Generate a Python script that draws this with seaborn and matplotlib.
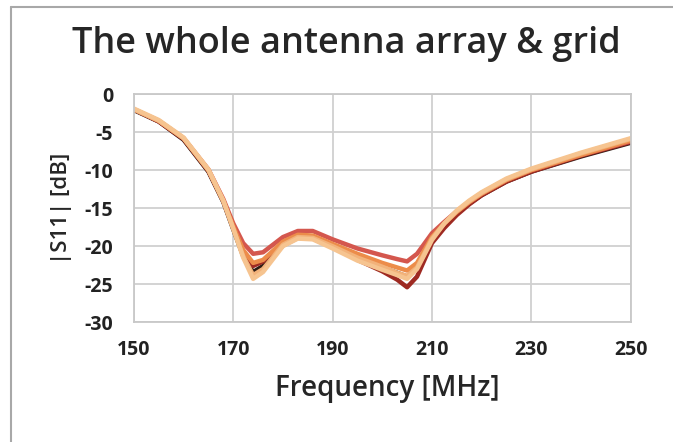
import pandas as pd
import seaborn as sns
import matplotlib.pyplot as plt
from matplotlib.lines import Line2D

# frequency points (MHz)
freq = [150, 155, 160, 165, 168, 170, 172, 174, 176, 178, 180, 183, 186, 190,
        195, 200, 203, 205, 207, 210, 212.5, 215, 217.5, 220, 225, 230, 240, 250]

# |S11| in dB, one list per measurement
s_dark = [-2.1, -3.6, -6.0, -10.2, -14.2, -17.8, -21.3, -23.4, -22.6, -21.3, -19.9, -18.9, -19.0, -20.1,
          -21.6, -22.8, -23.5, -24.0, -22.8, -19.0, -17.3, -15.7, -14.4, -13.3, -11.5, -10.2, -8.2, -6.4]
s_darkred = [-2.0, -3.6, -5.9, -10.1, -14.1, -17.6, -20.8, -22.6, -22.0, -20.8, -19.5, -18.6, -18.7, -20.0,
             -21.8, -23.3, -24.4, -25.4, -24.0, -19.6, -17.6, -15.9, -14.5, -13.3, -11.5, -10.2, -8.1, -6.3]
s_red = [-2.0, -3.5, -5.8, -9.9, -13.8, -17.0, -19.6, -21.0, -20.8, -19.8, -18.8, -18.0, -18.0, -19.1,
         -20.3, -21.2, -21.7, -22.0, -21.0, -18.3, -16.8, -15.4, -14.2, -13.1, -11.3, -10.0, -8.0, -6.2]
s_orange = [-2.0, -3.5, -5.8, -10.0, -14.0, -17.4, -20.5, -22.2, -21.8, -20.6, -19.4, -18.5, -18.6, -19.7,
            -21.0, -22.2, -22.8, -23.2, -22.2, -18.8, -17.0, -15.5, -14.2, -13.1, -11.3, -10.0, -8.0, -6.1]
s_tan = [-2.0, -3.5, -5.8, -10.0, -14.1, -17.7, -21.3, -23.8, -23.0, -21.4, -19.8, -18.8, -18.9, -20.0,
         -21.5, -22.7, -23.5, -23.9, -22.8, -19.0, -17.0, -15.4, -14.1, -13.0, -11.2, -9.9, -7.8, -5.9]
s_peach = [-1.9, -3.4, -5.7, -9.9, -14.0, -17.7, -21.5, -24.3, -23.4, -21.7, -20.0, -19.0, -19.1, -20.3,
           -21.9, -23.1, -23.8, -24.3, -23.0, -19.2, -17.0, -15.3, -14.0, -12.9, -11.1, -9.8, -7.7, -5.8]

series = {"dark": s_dark, "darkred": s_darkred, "red": s_red,
          "orange": s_orange, "tan": s_tan, "peach": s_peach}
colors = ["#2e1c14", "#9e2a22", "#d4574e", "#ec8c4a", "#f2b27a", "#f6c490"]

x_ticks = [150, 170, 190, 210, 230, 250]
y_ticks = [0, -5, -10, -15, -20, -25, -30]

# long-form table for seaborn
df = pd.concat([pd.DataFrame({"freq": freq, "s11": v, "run": k}) for k, v in series.items()],
               ignore_index=True)

sns.set_style("whitegrid")
plt.rcParams['font.family'] = ['Open Sans', 'DejaVu Sans']
plt.rcParams['axes.unicode_minus'] = False

fig = plt.figure(figsize=(6.73, 4.42), dpi=100)
ax = fig.add_axes([0.199, 0.271, 0.738, 0.516])

sns.lineplot(data=df, x="freq", y="s11", hue="run", palette=colors,
             linewidth=3.2, legend=False, ax=ax, sort=False)

ax.set_xlim(150, 250)
ax.set_ylim(-30, 0)
ax.set_xticks(x_ticks)
ax.set_yticks(y_ticks)
ax.grid(True, color="#d0d0d0", linewidth=1.3)
for sp in ax.spines.values():
    sp.set_color("#c8c8c8")
    sp.set_linewidth(1.3)
ax.tick_params(axis="both", length=0, labelsize=14, labelcolor="#222222")
ax.tick_params(axis="x", pad=13)
ax.tick_params(axis="y", pad=15)
for lab in ax.get_xticklabels() + ax.get_yticklabels():
    lab.set_fontweight("bold")

ax.set_xlabel("Frequency [MHz]", fontsize=20, color="#262626", va="top",
              fontweight="semibold")
ax.set_ylabel("|S11| [dB]", fontsize=16, color="#262626", fontweight="semibold")
ax.xaxis.set_label_coords(0.51, -0.225)
ax.yaxis.set_label_coords(-0.125, 0.5)

fig.text(0.514, 0.90, "The whole antenna array & grid", ha="center", va="center",
         fontsize=26, color="#262626", fontweight="semibold")

# outer frame (left and top)
fig.add_artist(Line2D([0.017, 0.017], [0.0, 0.984], transform=fig.transFigure,
                      color="#a8a8a8", linewidth=1.5))
fig.add_artist(Line2D([0.017, 1.0], [0.984, 0.984], transform=fig.transFigure,
                      color="#a8a8a8", linewidth=1.5))

fig.savefig("out.png", dpi=100)
